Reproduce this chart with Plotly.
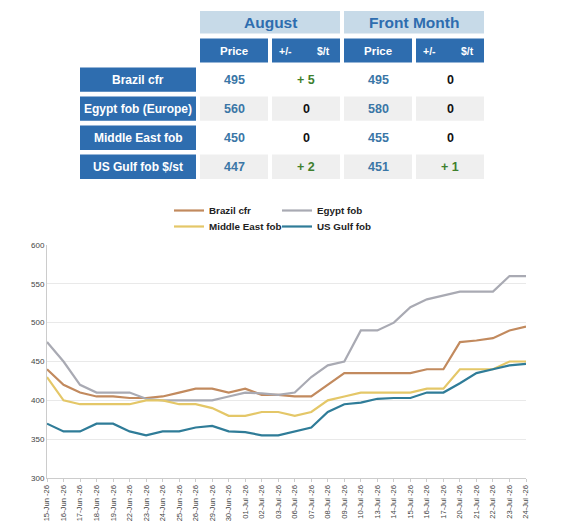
import plotly.graph_objects as go

dates = ["15-Jun -26", "16-Jun -26", "17-Jun -26", "18-Jun -26", "19-Jun -26",
         "22-Jun -26", "23-Jun -26", "24-Jun -26", "25-Jun -26", "26-Jun -26",
         "29-Jun -26", "30-Jun -26", "01-Jul -26", "02-Jul -26", "03-Jul -26",
         "06-Jul -26", "07-Jul -26", "08-Jul -26", "09-Jul -26", "10-Jul -26",
         "13-Jul -26", "14-Jul -26", "15-Jul -26", "16-Jul -26", "17-Jul -26",
         "20-Jul -26", "21-Jul -26", "22-Jul -26", "23-Jul -26", "24-Jul -26"]

brazil = [440, 420, 410, 405, 405, 403, 403, 405, 410, 415,
          415, 410, 415, 407, 407, 405, 405, 420, 435, 435,
          435, 435, 435, 440, 440, 475, 477, 480, 490, 495]
egypt = [475, 450, 420, 410, 410, 410, 402, 400, 400, 400,
         400, 405, 410, 409, 407, 410, 430, 445, 450, 490,
         490, 500, 520, 530, 535, 540, 540, 540, 560, 560]
middle_east = [430, 400, 395, 395, 395, 395, 400, 400, 395, 395,
               390, 380, 380, 385, 385, 380, 385, 400, 405, 410,
               410, 410, 410, 415, 415, 440, 440, 440, 450, 450]
us_gulf = [370, 360, 360, 370, 370, 360, 355, 360, 360, 365,
           367, 360, 359, 355, 355, 360, 365, 385, 395, 397,
           402, 403, 403, 410, 410, 422, 435, 440, 445, 447]

series_names = ["Brazil cfr", "Egypt fob", "Middle East fob", "US Gulf fob"]
series_colors = ["#c28a5e", "#a9aab3", "#e4c768", "#2f7c98"]

# table data
table_groups = ["August", "Front Month"]
table_rows = ["Brazil cfr", "Egypt fob (Europe)", "Middle East fob", "US Gulf fob $/st"]
aug_price = ["495", "560", "450", "447"]
aug_change = ["+ 5", "0", "0", "+ 2"]
fm_price = ["495", "580", "455", "451"]
fm_change = ["0", "0", "0", "+ 1"]

W, H = 576, 526
OFF = 8  # page body margin of the viewer
PL, PR, PT, PB = 47, 526, 245, 478  # plot area in screen px


def px(x):
    return (x - PL) / (PR - PL)


def py(y):
    return (PB - y) / (PB - PT)


fig = go.Figure()
all_series = [brazil, egypt, middle_east, us_gulf]
for i, (name, vals, col) in enumerate(zip(series_names, all_series, series_colors)):
    fig.add_trace(go.Scatter(
        x=dates, y=vals, name=name, mode="lines",
        line=dict(color=col, width=2.2),
        legend="legend" if i in (0, 1) else "legend2",
    ))

shapes = []
annotations = []

DARK = "#2e6daf"
LIGHT = "#c7dae8"
GRAY = "#efefef"
FONT = "Liberation Sans, Arial, sans-serif"


def box(x0, y0, x1, y1, color):
    shapes.append(dict(type="rect", xref="paper", yref="paper",
                       x0=px(x0), x1=px(x1), y0=py(y1), y1=py(y0),
                       fillcolor=color, line=dict(width=0), layer="below"))


def text(x, y, s, size, color):
    annotations.append(dict(xref="paper", yref="paper", x=px(x), y=py(y),
                            text="<b>%s</b>" % s, showarrow=False,
                            xanchor="center", yanchor="middle",
                            font=dict(family=FONT, size=size, color=color)))


col_x = [(200, 268), (272, 340), (344, 412), (416, 484)]
# group headers
for g, name in enumerate(table_groups):
    x0 = col_x[2 * g][0]
    x1 = col_x[2 * g + 1][1]
    box(x0, 11, x1, 33.5, LIGHT)
    text((x0 + x1) / 2, 22.5, name, 15.5, DARK)
# sub headers
for c, (x0, x1) in enumerate(col_x):
    box(x0, 38.5, x1, 62.5, DARK)
    if c % 2 == 0:
        text((x0 + x1) / 2, 51, "Price", 11.5, "white")
    else:
        text(x0 + 13, 51, "+/-", 10.5, "white")
        text(x0 + 51, 51, "$/t", 10.5, "white")

row_y = [(67.5, 91.8), (96.5, 120.8), (125.5, 150), (154.5, 179)]
for r, (y0, y1) in enumerate(row_y):
    yc = (y0 + y1) / 2
    box(80, y0, 196, y1, DARK)
    text(138, yc, table_rows[r], 12, "white")
    fill = GRAY if r % 2 == 1 else "white"
    vals = [aug_price[r], aug_change[r], fm_price[r], fm_change[r]]
    for c, (x0, x1) in enumerate(col_x):
        box(x0, y0, x1, y1, fill)
        v = vals[c]
        if c % 2 == 0:
            color = "#3a76a6"
        else:
            color = "#3f7f2e" if v.startswith("+") else "#111111"
        text((x0 + x1) / 2, yc, v, 12.5, color)

legend_common = dict(orientation="h", xanchor="left", yanchor="middle",
                     font=dict(family=FONT, size=9.8, color="#222222", weight="bold"),
                     bgcolor="rgba(0,0,0,0)", entrywidth=63, entrywidthmode="pixels",
                     itemclick=False, itemdoubleclick=False)

fig.update_layout(
    width=W, height=H,
    margin=dict(l=PL - OFF, r=W - (PR - OFF), t=PT - OFF, b=H - (PB - OFF),
                autoexpand=False),
    paper_bgcolor="white", plot_bgcolor="white",
    font=dict(family=FONT, color="#444444"),
    showlegend=True,
    legend=dict(x=px(169), y=py(210.5), **legend_common),
    legend2=dict(x=px(169), y=py(226.5), **legend_common),
    shapes=shapes,
    annotations=annotations,
    xaxis=dict(
        type="category", range=[0, len(dates) - 1], automargin=False,
        tickangle=-90, tickfont=dict(size=7.6, color="#444444"),
        showgrid=False, showline=True, linecolor="#cccccc", linewidth=1,
        ticks="outside", ticklen=3, tickcolor="#cccccc",
    ),
    yaxis=dict(
        range=[300, 600], dtick=50, tick0=300, automargin=False,
        tickfont=dict(size=8, color="#444444"),
        showgrid=True, gridcolor="#e9e9e9", gridwidth=1,
        showline=True, linecolor="#cccccc", linewidth=1,
        ticks="", zeroline=False,
    ),
)

fig.write_html("out.html")
